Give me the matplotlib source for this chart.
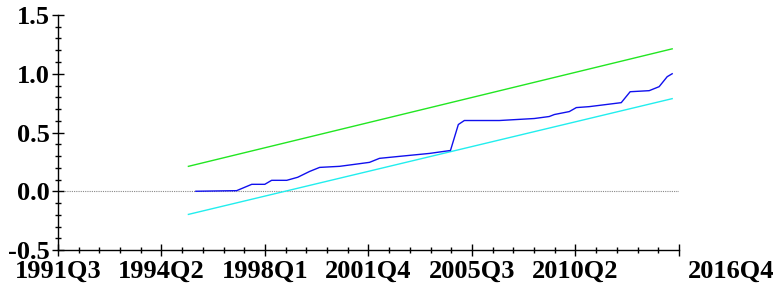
import matplotlib.pyplot as plt
from matplotlib.ticker import MultipleLocator

# x positions are in axis units (5 units per labelled interval)
tick_pos = [0, 5, 10, 15, 20, 25, 30]
tick_labels = ["1991Q3", "1994Q2", "1998Q1", "2001Q4", "2005Q3", "2010Q2", ""]
last_label = "2016Q4"
last_label_pos = 32.5

# CUSUM of squares (blue)
cusum_x = [6.66, 8.63, 9.36, 9.99, 10.32, 11.05, 11.58, 12.16, 12.64, 13.60,
           14.33, 15.05, 15.53, 16.50, 17.95, 18.96, 19.34, 19.63, 21.32, 23.01,
           23.73, 23.98, 24.70, 25.04, 25.66, 27.21, 27.64, 28.56, 29.04, 29.43, 29.67]
cusum_y = [0.0, 0.005, 0.059, 0.059, 0.093, 0.093, 0.119, 0.169, 0.203, 0.212,
           0.229, 0.246, 0.28, 0.297, 0.322, 0.347, 0.568, 0.602, 0.602, 0.619,
           0.636, 0.653, 0.678, 0.712, 0.72, 0.754, 0.847, 0.856, 0.89, 0.975, 1.0]

# 5% significance bounds
bound_x = [6.3, 29.67]
upper = [0.212, 1.212]
lower = [-0.197, 0.788]

fig = plt.figure(figsize=(7.78, 2.88), dpi=100)
ax = fig.add_axes([58 / 778, 1 - 250 / 288, (679 - 58) / 778, (250 - 15) / 288])

ax.axhline(0, color="#888888", lw=0.8, ls=(0, (1, 1)), zorder=1)
ax.plot(bound_x, upper, color="#22e622", lw=1.0)
ax.plot(bound_x, lower, color="#22eeee", lw=1.0)
ax.plot(cusum_x, cusum_y, color="#1010ee", lw=1.0)

ax.set_xlim(0, 30)
ax.set_ylim(-0.5, 1.5)

for s in ["top", "right"]:
    ax.spines[s].set_visible(False)
for s in ["left", "bottom"]:
    ax.spines[s].set_linewidth(1.0)

font = dict(family="Liberation Serif", weight="bold", size=19)

ax.set_xticks(tick_pos)
ax.set_xticklabels(tick_labels, **font)
ax.xaxis.set_minor_locator(MultipleLocator(1))
ax.yaxis.set_minor_locator(MultipleLocator(0.1))
ax.set_yticks([-0.5, 0.0, 0.5, 1.0, 1.5])
ax.set_yticklabels(["-0.5", "0.0", "0.5", "1.0", "1.5"], **font)

ax.tick_params(axis="both", which="major", direction="inout", length=8, width=1.0)
ax.tick_params(axis="both", which="minor", direction="inout", length=5, width=1.0)
ax.tick_params(axis="x", which="major", pad=3)
ax.tick_params(axis="y", which="major", pad=2)

# last date label sits past the end of the axis, aligned with the others
ax.annotate(last_label, xy=(last_label_pos, 0), xycoords=("data", "axes fraction"),
            xytext=(0, -7), textcoords="offset points", ha="center", va="top",
            annotation_clip=False, **font)

plt.savefig("out.png", dpi=100)
